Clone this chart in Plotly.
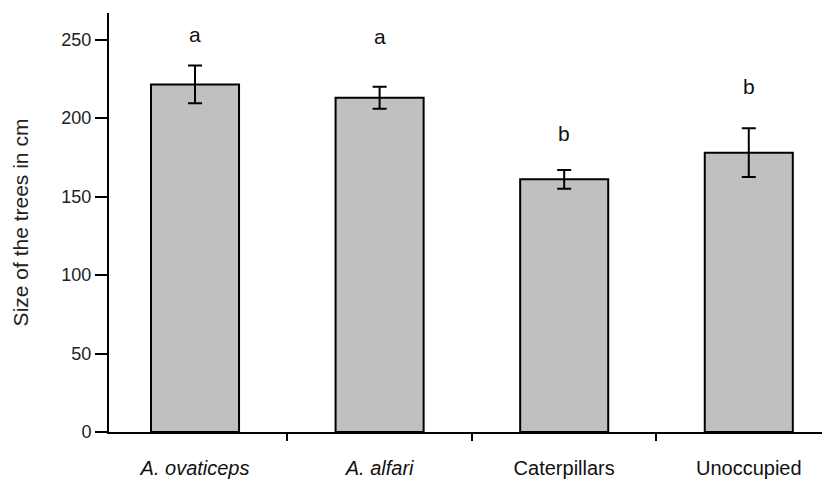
import plotly.graph_objects as go

categories = ["<i>A. ovaticeps</i>", "<i>A. alfari</i>", "Caterpillars", "Unoccupied"]
means = [221.5, 213, 161, 178]
errors = [12, 7, 6, 15.5]
letters = ["a", "a", "b", "b"]
letter_y = [253, 252, 190, 220]
y_ticks = [0, 50, 100, 150, 200, 250]

fig = go.Figure()
fig.add_trace(go.Bar(
    x=categories, y=means,
    width=0.477,
    marker=dict(color="#c0c0c0", line=dict(color="black", width=2)),
    error_y=dict(type="data", array=errors, visible=True, color="black", thickness=2, width=7),
    showlegend=False,
))

for c, l, ly in zip(categories, letters, letter_y):
    fig.add_annotation(x=c, y=ly, text=l, showarrow=False,
                       font=dict(family="Liberation Sans, Arial", size=21, color="#111"))

fig.update_layout(
    width=830, height=480,
    margin=dict(l=101, r=8, t=5, b=56),
    paper_bgcolor="white", plot_bgcolor="white",
    font=dict(family="Liberation Sans, Arial", color="#111"),
)
fig.update_xaxes(
    type="category", range=[-0.466, 3.44],
    showline=True, linecolor="black", linewidth=2,
    ticks="outside", tickson="boundaries", ticklen=7, tickwidth=2, tickcolor="black",
    tickfont=dict(size=20), ticklabelstandoff=17, showgrid=False, zeroline=False,
)
fig.update_yaxes(
    range=[0, 267], tickvals=y_ticks,
    showline=True, linecolor="black", linewidth=2,
    ticks="outside", ticklen=12, tickwidth=2, tickcolor="black",
    tickfont=dict(size=18, color="#222"), showgrid=False, zeroline=False,
    title=dict(text="Size of the trees in cm", font=dict(size=21, color="#222"), standoff=27),
)
fig.write_html("out.html")
